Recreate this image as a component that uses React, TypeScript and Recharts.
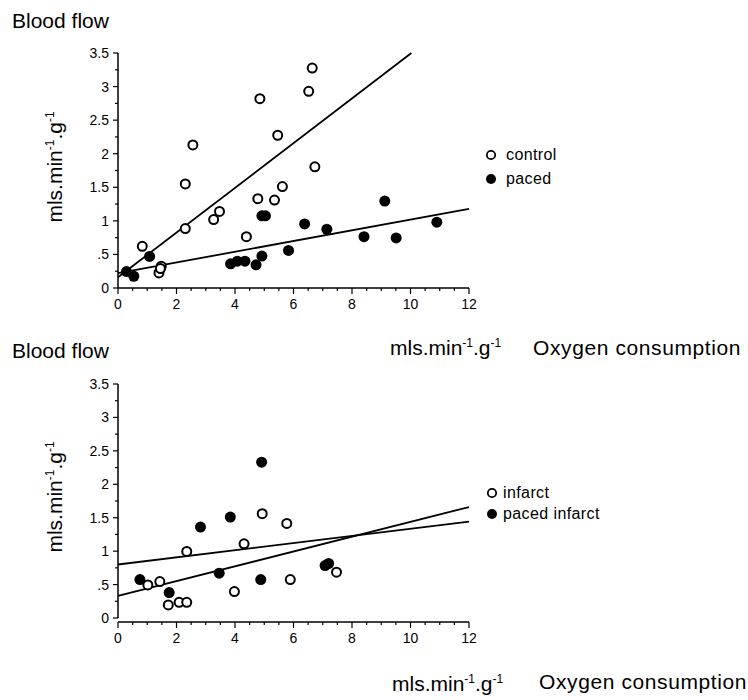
import { ComposedChart, Scatter, XAxis, YAxis, Legend } from 'recharts';

const FONT = '"Liberation Sans", Arial, Helvetica, sans-serif';

// ---- top panel: control vs paced ----
const controlPts = [
  { x: 0.83, y: 0.62 }, { x: 1.4, y: 0.225 }, { x: 1.48, y: 0.325 }, { x: 1.45, y: 0.29 },
  { x: 2.3, y: 0.885 }, { x: 2.3, y: 1.55 }, { x: 2.56, y: 2.13 }, { x: 3.27, y: 1.02 },
  { x: 3.47, y: 1.14 }, { x: 4.39, y: 0.765 }, { x: 4.78, y: 1.33 }, { x: 4.85, y: 2.82 },
  { x: 5.35, y: 1.31 }, { x: 5.46, y: 2.275 }, { x: 5.62, y: 1.51 }, { x: 6.52, y: 2.93 },
  { x: 6.64, y: 3.275 }, { x: 6.73, y: 1.805 },
];
const pacedPts = [
  { x: 0.29, y: 0.245 }, { x: 0.54, y: 0.175 }, { x: 1.08, y: 0.47 }, { x: 3.85, y: 0.36 },
  { x: 4.08, y: 0.4 }, { x: 4.34, y: 0.4 }, { x: 4.72, y: 0.345 }, { x: 4.92, y: 0.475 },
  { x: 4.92, y: 1.075 }, { x: 5.04, y: 1.075 }, { x: 5.83, y: 0.56 }, { x: 6.38, y: 0.955 },
  { x: 7.14, y: 0.875 }, { x: 8.41, y: 0.765 }, { x: 9.12, y: 1.295 }, { x: 9.51, y: 0.745 },
  { x: 10.9, y: 0.98 },
];
const controlFit = [{ x: 0, y: 0.16 }, { x: 10.03, y: 3.5 }];
const pacedFit = [{ x: 0, y: 0.22 }, { x: 12, y: 1.18 }];

// ---- bottom panel: infarct vs paced infarct ----
const infarctPts = [
  { x: 1.02, y: 0.495 }, { x: 1.43, y: 0.545 }, { x: 1.72, y: 0.195 }, { x: 2.09, y: 0.235 },
  { x: 2.35, y: 0.235 }, { x: 2.35, y: 0.995 }, { x: 3.98, y: 0.395 }, { x: 4.31, y: 1.11 },
  { x: 4.93, y: 1.56 }, { x: 5.77, y: 1.415 }, { x: 5.89, y: 0.575 }, { x: 7.47, y: 0.685 },
];
const pacedInfarctPts = [
  { x: 0.75, y: 0.575 }, { x: 1.75, y: 0.38 }, { x: 2.82, y: 1.36 }, { x: 3.46, y: 0.67 },
  { x: 3.84, y: 1.51 }, { x: 4.91, y: 2.33 }, { x: 4.88, y: 0.575 }, { x: 7.08, y: 0.785 },
  { x: 7.2, y: 0.815 },
];
const infarctFit = [{ x: 0, y: 0.33 }, { x: 12, y: 1.66 }];
const pacedInfarctFit = [{ x: 0, y: 0.8 }, { x: 12, y: 1.44 }];

// axes
const yTicks = [0, 0.25, 0.5, 0.75, 1, 1.25, 1.5, 1.75, 2, 2.25, 2.5, 2.75, 3, 3.25, 3.5];
const yLabels: Record<string, string> = { '0': '0', '0.5': '.5', '1': '1', '1.5': '1.5', '2': '2', '2.5': '2.5', '3': '3', '3.5': '3.5' };
const xTicks = [0, 0.5, 1, 1.5, 2, 2.5, 3, 3.5, 4, 4.5, 5, 5.5, 6, 6.5, 7, 7.5, 8, 8.5, 9, 9.5, 10, 10.5, 11, 11.5, 12];
const xLabels: Record<string, string> = { '0': '0', '2': '2', '4': '4', '6': '6', '8': '8', '10': '10', '12': '12' };

const topLegend = [{ name: 'control', filled: false }, { name: 'paced', filled: true }];
const bottomLegend = [{ name: 'infarct', filled: false }, { name: 'paced infarct', filled: true }];

function OpenDot(p: any) {
  return <circle cx={p.cx} cy={p.cy} r={4.5} fill="#fff" stroke="#000" strokeWidth={2} />;
}
function FilledDot(p: any) {
  return <circle cx={p.cx} cy={p.cy} r={5.5} fill="#000" />;
}
function NoDot() {
  return <g />;
}

function YTick({ x, y, payload }: any) {
  const label = yLabels[String(payload.value)];
  return (
    <g>
      <line x1={x} x2={x - (label ? 5 : 3)} y1={y} y2={y} stroke="#000" strokeWidth={1.2} />
      {label && (
        <text x={x - 9} y={y + 5} textAnchor="end" fontSize={14} fontFamily={FONT} fill="#000">{label}</text>
      )}
    </g>
  );
}

function makeXTick(shift: number) {
  return function XTick({ x, y, payload }: any) {
    const label = xLabels[String(payload.value)];
    const y0 = y + shift;
    return (
      <g>
        <line x1={x} x2={x} y1={y0} y2={y0 + (label ? 6 : 3)} stroke="#000" strokeWidth={1.2} />
        {label && (
          <text x={x} y={y0 + 21} textAnchor="middle" fontSize={14} fontFamily={FONT} fill="#000">{label}</text>
        )}
      </g>
    );
  };
}

function makeLegend(items: { name: string; filled: boolean }[], rowH: number, gap: number) {
  return function LegendBox() {
    return (
      <div style={{ fontFamily: FONT, fontSize: 16, color: '#000', width: 'max-content' }}>
        {items.map((it) => (
          <div key={it.name} style={{ display: 'flex', alignItems: 'center', height: rowH }}>
            <svg width={12} height={12} style={{ display: 'block', flexShrink: 0 }}>
              {it.filled
                ? <circle cx={6} cy={6} r={5} fill="#000" />
                : <circle cx={6} cy={6} r={4.2} fill="#fff" stroke="#000" strokeWidth={1.8} />}
            </svg>
            <span style={{ marginLeft: gap, letterSpacing: 0.4 }}>{it.name}</span>
          </div>
        ))}
      </div>
    );
  };
}

function Panel({ height, top, axisH, xShift, open, filled, openFit, filledFit, legend, legendPos }: any) {
  return (
    <ComposedChart width={748} height={height} margin={{ top, right: 279, bottom: 0, left: 0 }}>
      <XAxis
        type="number"
        dataKey="x"
        domain={[0, 12]}
        ticks={xTicks}
        interval={0}
        height={axisH}
        tickSize={0}
        tickMargin={0}
        tickLine={false}
        tick={makeXTick(xShift)}
        axisLine={{ stroke: '#000', strokeWidth: 1.5, transform: `translate(0,${xShift})` }}
      />
      <YAxis
        type="number"
        dataKey="y"
        domain={[0, 3.5]}
        ticks={yTicks}
        interval={0}
        width={118}
        tickSize={0}
        tickMargin={0}
        tickLine={false}
        tick={<YTick />}
        axisLine={{ stroke: '#000', strokeWidth: 1.5 }}
      />
      <Scatter name="fitA" data={openFit} line={{ stroke: '#000', strokeWidth: 1.8 }} shape={NoDot} legendType="none" isAnimationActive={false} />
      <Scatter name="fitB" data={filledFit} line={{ stroke: '#000', strokeWidth: 1.8 }} shape={NoDot} legendType="none" isAnimationActive={false} />
      <Scatter name="open" data={open} shape={OpenDot} isAnimationActive={false} />
      <Scatter name="filled" data={filled} shape={FilledDot} isAnimationActive={false} />
      <Legend
        content={legend}
        wrapperStyle={{
          position: 'absolute',
          left: legendPos.left,
          top: legendPos.top,
          width: 0,
          height: 0,
          overflow: 'visible',
          whiteSpace: 'nowrap',
          bottom: 'auto',
        }}
      />
    </ComposedChart>
  );
}

function Sup({ children }: any) {
  return <tspan fontSize={12} dy={-8}>{children}</tspan>;
}

function UnitText({ x, y, rotate }: { x: number; y: number; rotate?: boolean }) {
  return (
    <text
      x={rotate ? 0 : x}
      y={rotate ? 0 : y}
      transform={rotate ? `translate(${x},${y}) rotate(-90)` : undefined}
      textAnchor={rotate ? 'middle' : 'start'}
      fontSize={21}
      fontFamily={FONT}
      fill="#000"
    >
      mls.min<Sup>-1</Sup>
      <tspan dy={8}>.g</tspan>
      <Sup>-1</Sup>
    </text>
  );
}

export default function App() {
  return (
    <div style={{ position: 'absolute', left: 0, top: 0, width: 748, height: 700, background: '#fff' }}>
      <div style={{ position: 'absolute', left: 0, top: 0 }}>
        <Panel
          height={330}
          top={53}
          axisH={42}
          xShift={0}
          open={controlPts}
          filled={pacedPts}
          openFit={controlFit}
          filledFit={pacedFit}
          legend={makeLegend(topLegend, 24, 9)}
          legendPos={{ left: 485, top: 143 }}
        />
      </div>
      <div style={{ position: 'absolute', left: 0, top: 330 }}>
        <Panel
          height={370}
          top={54}
          axisH={82}
          xShift={4}
          open={infarctPts}
          filled={pacedInfarctPts}
          openFit={infarctFit}
          filledFit={pacedInfarctFit}
          legend={makeLegend(bottomLegend, 21, 5)}
          legendPos={{ left: 486, top: 152 }}
        />
      </div>
      <svg width={748} height={700} style={{ position: 'absolute', left: 0, top: 0, pointerEvents: 'none' }}>
        <text x={12} y={28} fontSize={21} fontFamily={FONT} fill="#000">Blood flow</text>
        <UnitText x={62} y={167} rotate />
        <UnitText x={390} y={355} />
        <text x={533} y={355} fontSize={21} letterSpacing={0.6} fontFamily={FONT} fill="#000">Oxygen consumption</text>

        <text x={12} y={358} fontSize={21} fontFamily={FONT} fill="#000">Blood flow</text>
        <UnitText x={62} y={497} rotate />
        <UnitText x={392} y={691} />
        <text x={539} y={689} fontSize={21} letterSpacing={0.6} fontFamily={FONT} fill="#000">Oxygen consumption</text>
      </svg>
    </div>
  );
}
